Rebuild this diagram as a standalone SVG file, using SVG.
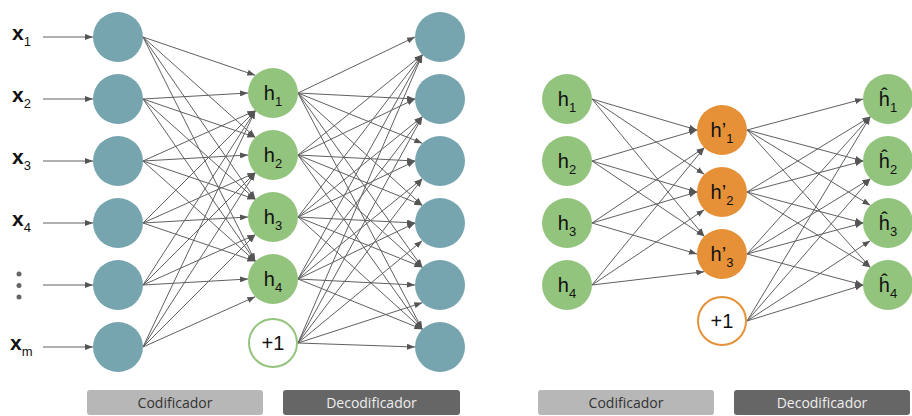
<svg xmlns="http://www.w3.org/2000/svg" width="912" height="416" viewBox="0 0 912 416">
<defs>
<marker id="ah" viewBox="0 0 8 6" refX="8" refY="3" markerWidth="8" markerHeight="6" markerUnits="userSpaceOnUse" orient="auto">
<path d="M0,0 L8,3 L0,6 z" fill="#555"/>
</marker>
<style>
.c line{stroke:#606060;stroke-width:1;marker-end:url(#ah);fill:none}
.teal{fill:#76a5af}
.green{fill:#93c47d}
.orange{fill:#e69138}
.gring{fill:#fff;stroke:#93c47d;stroke-width:2}
.oring{fill:#fff;stroke:#e69138;stroke-width:2}
.lbl{font-family:"Liberation Sans",Arial,sans-serif;font-size:20px;fill:#111;text-anchor:middle}
.sub{font-size:13px}
.xl{font-family:"Liberation Sans",Arial,sans-serif;font-size:21px;font-weight:bold;fill:#111}
.xs{font-size:13px;font-weight:normal}
.bar{font-family:"Open Sans","Noto Sans",sans-serif;font-size:14px;text-anchor:middle}
</style>
</defs>
<rect width="912" height="416" fill="#fff"/>

<g id="connectors" class="c">
<line x1="43" y1="37" x2="93" y2="37"/>
<line x1="43" y1="99" x2="93" y2="99"/>
<line x1="43" y1="161" x2="93" y2="161"/>
<line x1="43" y1="223" x2="93" y2="223"/>
<line x1="43" y1="285" x2="93" y2="285"/>
<line x1="43" y1="347" x2="93" y2="347"/>
<line x1="143" y1="37" x2="255.3" y2="75.3"/>
<line x1="143" y1="37" x2="255.3" y2="137.3"/>
<line x1="143" y1="37" x2="255.3" y2="199.3"/>
<line x1="143" y1="37" x2="255.3" y2="261.3"/>
<line x1="143" y1="99" x2="248" y2="93"/>
<line x1="143" y1="99" x2="255.3" y2="137.3"/>
<line x1="143" y1="99" x2="255.3" y2="199.3"/>
<line x1="143" y1="99" x2="255.3" y2="261.3"/>
<line x1="143" y1="161" x2="255.3" y2="110.7"/>
<line x1="143" y1="161" x2="248" y2="155"/>
<line x1="143" y1="161" x2="255.3" y2="199.3"/>
<line x1="143" y1="161" x2="255.3" y2="261.3"/>
<line x1="143" y1="223" x2="255.3" y2="110.7"/>
<line x1="143" y1="223" x2="255.3" y2="172.7"/>
<line x1="143" y1="223" x2="248" y2="217"/>
<line x1="143" y1="223" x2="255.3" y2="261.3"/>
<line x1="143" y1="285" x2="255.3" y2="110.7"/>
<line x1="143" y1="285" x2="255.3" y2="172.7"/>
<line x1="143" y1="285" x2="255.3" y2="234.7"/>
<line x1="143" y1="285" x2="248" y2="279"/>
<line x1="143" y1="347" x2="255.3" y2="110.7"/>
<line x1="143" y1="347" x2="255.3" y2="172.7"/>
<line x1="143" y1="347" x2="255.3" y2="234.7"/>
<line x1="143" y1="347" x2="255.3" y2="296.7"/>
<line x1="298" y1="93" x2="415" y2="37"/>
<line x1="298" y1="93" x2="415" y2="99"/>
<line x1="298" y1="93" x2="422.3" y2="143.3"/>
<line x1="298" y1="93" x2="422.3" y2="205.3"/>
<line x1="298" y1="93" x2="422.3" y2="267.3"/>
<line x1="298" y1="93" x2="422.3" y2="329.3"/>
<line x1="298" y1="155" x2="422.3" y2="54.7"/>
<line x1="298" y1="155" x2="415" y2="99"/>
<line x1="298" y1="155" x2="415" y2="161"/>
<line x1="298" y1="155" x2="422.3" y2="205.3"/>
<line x1="298" y1="155" x2="422.3" y2="267.3"/>
<line x1="298" y1="155" x2="422.3" y2="329.3"/>
<line x1="298" y1="217" x2="422.3" y2="54.7"/>
<line x1="298" y1="217" x2="422.3" y2="116.7"/>
<line x1="298" y1="217" x2="415" y2="161"/>
<line x1="298" y1="217" x2="415" y2="223"/>
<line x1="298" y1="217" x2="422.3" y2="267.3"/>
<line x1="298" y1="217" x2="422.3" y2="329.3"/>
<line x1="298" y1="279" x2="422.3" y2="54.7"/>
<line x1="298" y1="279" x2="422.3" y2="116.7"/>
<line x1="298" y1="279" x2="422.3" y2="178.7"/>
<line x1="298" y1="279" x2="415" y2="223"/>
<line x1="298" y1="279" x2="415" y2="285"/>
<line x1="298" y1="279" x2="422.3" y2="329.3"/>
<line x1="298" y1="343" x2="422.3" y2="54.7"/>
<line x1="298" y1="343" x2="422.3" y2="116.7"/>
<line x1="298" y1="343" x2="422.3" y2="178.7"/>
<line x1="298" y1="343" x2="422.3" y2="240.7"/>
<line x1="298" y1="343" x2="422.3" y2="302.7"/>
<line x1="298" y1="343" x2="415" y2="347"/>
<line x1="592" y1="99" x2="697" y2="130"/>
<line x1="592" y1="99" x2="704.3" y2="174.3"/>
<line x1="592" y1="99" x2="704.3" y2="236.3"/>
<line x1="592" y1="161" x2="697" y2="130"/>
<line x1="592" y1="161" x2="697" y2="192"/>
<line x1="592" y1="161" x2="704.3" y2="236.3"/>
<line x1="592" y1="223" x2="704.3" y2="147.7"/>
<line x1="592" y1="223" x2="697" y2="192"/>
<line x1="592" y1="223" x2="697" y2="254"/>
<line x1="592" y1="285" x2="704.3" y2="147.7"/>
<line x1="592" y1="285" x2="704.3" y2="209.7"/>
<line x1="592" y1="285" x2="704.3" y2="271.7"/>
<line x1="747" y1="130" x2="863" y2="99"/>
<line x1="747" y1="130" x2="863" y2="161"/>
<line x1="747" y1="130" x2="870.3" y2="205.3"/>
<line x1="747" y1="130" x2="870.3" y2="267.3"/>
<line x1="747" y1="192" x2="870.3" y2="116.7"/>
<line x1="747" y1="192" x2="863" y2="161"/>
<line x1="747" y1="192" x2="863" y2="223"/>
<line x1="747" y1="192" x2="870.3" y2="267.3"/>
<line x1="747" y1="254" x2="870.3" y2="116.7"/>
<line x1="747" y1="254" x2="870.3" y2="178.7"/>
<line x1="747" y1="254" x2="863" y2="223"/>
<line x1="747" y1="254" x2="863" y2="285"/>
<line x1="747" y1="321" x2="870.3" y2="116.7"/>
<line x1="747" y1="321" x2="870.3" y2="178.7"/>
<line x1="747" y1="321" x2="870.3" y2="240.7"/>
<line x1="747" y1="321" x2="863" y2="285"/>
</g>

<g id="labels-x">
<text class="xl" x="12" y="40">x<tspan class="xs" dy="6">1</tspan></text>
<text class="xl" x="12" y="102">x<tspan class="xs" dy="6">2</tspan></text>
<text class="xl" x="12" y="164">x<tspan class="xs" dy="6">3</tspan></text>
<text class="xl" x="12" y="226">x<tspan class="xs" dy="6">4</tspan></text>
<g fill="#666"><circle cx="19" cy="274" r="2.5"/><circle cx="19" cy="285.5" r="2.5"/><circle cx="19" cy="297" r="2.5"/></g>
<text class="xl" x="10" y="350">x<tspan class="xs" dy="6">m</tspan></text>
</g>

<g id="in1"><circle class="teal" cx="118" cy="37" r="25"/></g>
<g id="in2"><circle class="teal" cx="118" cy="99" r="25"/></g>
<g id="in3"><circle class="teal" cx="118" cy="161" r="25"/></g>
<g id="in4"><circle class="teal" cx="118" cy="223" r="25"/></g>
<g id="in5"><circle class="teal" cx="118" cy="285" r="25"/></g>
<g id="in6"><circle class="teal" cx="118" cy="347" r="25"/></g>

<g id="lh1"><circle class="green" cx="273" cy="93" r="25"/><text class="lbl" x="273" y="100">h<tspan class="sub" dy="6">1</tspan></text></g>
<g id="lh2"><circle class="green" cx="273" cy="155" r="25"/><text class="lbl" x="273" y="162">h<tspan class="sub" dy="6">2</tspan></text></g>
<g id="lh3"><circle class="green" cx="273" cy="217" r="25"/><text class="lbl" x="273" y="224">h<tspan class="sub" dy="6">3</tspan></text></g>
<g id="lh4"><circle class="green" cx="273" cy="279" r="25"/><text class="lbl" x="273" y="286">h<tspan class="sub" dy="6">4</tspan></text></g>
<g id="lbias"><circle class="gring" cx="273" cy="343" r="24"/><text class="lbl" x="273" y="350">+1</text></g>

<g id="out1"><circle class="teal" cx="440" cy="37" r="25"/></g>
<g id="out2"><circle class="teal" cx="440" cy="99" r="25"/></g>
<g id="out3"><circle class="teal" cx="440" cy="161" r="25"/></g>
<g id="out4"><circle class="teal" cx="440" cy="223" r="25"/></g>
<g id="out5"><circle class="teal" cx="440" cy="285" r="25"/></g>
<g id="out6"><circle class="teal" cx="440" cy="347" r="25"/></g>

<g id="rh1"><circle class="green" cx="567" cy="99" r="25"/><text class="lbl" x="567" y="106">h<tspan class="sub" dy="6">1</tspan></text></g>
<g id="rh2"><circle class="green" cx="567" cy="161" r="25"/><text class="lbl" x="567" y="168">h<tspan class="sub" dy="6">2</tspan></text></g>
<g id="rh3"><circle class="green" cx="567" cy="223" r="25"/><text class="lbl" x="567" y="230">h<tspan class="sub" dy="6">3</tspan></text></g>
<g id="rh4"><circle class="green" cx="567" cy="285" r="25"/><text class="lbl" x="567" y="292">h<tspan class="sub" dy="6">4</tspan></text></g>

<g id="hp1"><circle class="orange" cx="722" cy="130" r="25"/><text class="lbl" x="722" y="137">h’<tspan class="sub" dy="6">1</tspan></text></g>
<g id="hp2"><circle class="orange" cx="722" cy="192" r="25"/><text class="lbl" x="722" y="199">h’<tspan class="sub" dy="6">2</tspan></text></g>
<g id="hp3"><circle class="orange" cx="722" cy="254" r="25"/><text class="lbl" x="722" y="261">h’<tspan class="sub" dy="6">3</tspan></text></g>
<g id="rbias"><circle class="oring" cx="722" cy="321" r="24"/><text class="lbl" x="722" y="328">+1</text></g>

<g id="hh1"><circle class="green" cx="888" cy="99" r="25"/><text class="lbl" x="888" y="106">ĥ<tspan class="sub" dy="6">1</tspan></text></g>
<g id="hh2"><circle class="green" cx="888" cy="161" r="25"/><text class="lbl" x="888" y="168">ĥ<tspan class="sub" dy="6">2</tspan></text></g>
<g id="hh3"><circle class="green" cx="888" cy="223" r="25"/><text class="lbl" x="888" y="230">ĥ<tspan class="sub" dy="6">3</tspan></text></g>
<g id="hh4"><circle class="green" cx="888" cy="285" r="25"/><text class="lbl" x="888" y="292">ĥ<tspan class="sub" dy="6">4</tspan></text></g>

<g id="bar-cod-l"><rect x="87" y="390" width="176" height="25" rx="3" fill="#b7b7b7"/><text class="bar" x="175" y="407.5" fill="#333">Codificador</text></g>
<g id="bar-dec-l"><rect x="283" y="390" width="177" height="25" rx="3" fill="#666"/><text class="bar" x="371.5" y="407.5" fill="#eee">Decodificador</text></g>
<g id="bar-cod-r"><rect x="538" y="390" width="176" height="25" rx="3" fill="#b7b7b7"/><text class="bar" x="626" y="407.5" fill="#333">Codificador</text></g>
<g id="bar-dec-r"><rect x="734" y="390" width="176" height="25" rx="3" fill="#666"/><text class="bar" x="822" y="407.5" fill="#eee">Decodificador</text></g>
</svg>
